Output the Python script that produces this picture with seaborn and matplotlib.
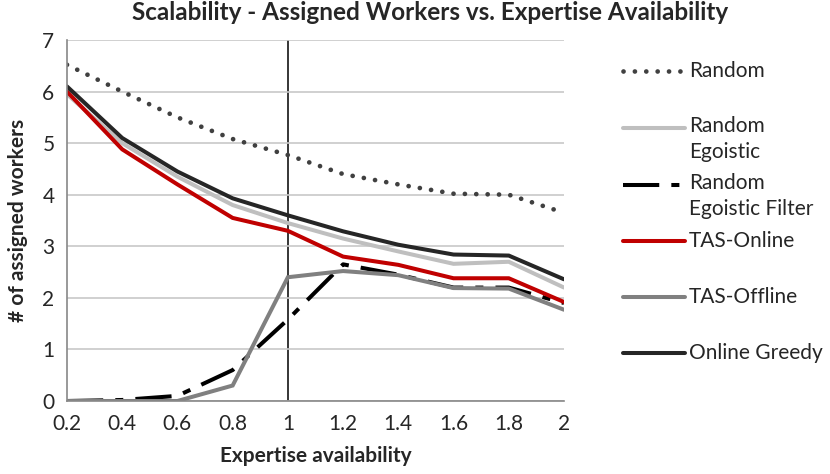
import matplotlib
matplotlib.use("Agg")
import matplotlib.pyplot as plt
from matplotlib.lines import Line2D
import seaborn as sns
import pandas as pd

# expertise availability levels
expertise = [0.2, 0.4, 0.6, 0.8, 1.0, 1.2, 1.4, 1.6, 1.8, 2.0]

# assigned workers per algorithm
random_ = [6.52, 6.0, 5.5, 5.08, 4.77, 4.4, 4.2, 4.02, 4.0, 3.65]
random_egoistic = [5.95, 5.0, 4.35, 3.8, 3.45, 3.15, 2.9, 2.66, 2.7, 2.2]
random_egoistic_filter = [0.0, 0.02, 0.1, 0.6, 1.58, 2.65, 2.45, 2.2, 2.2, 1.9]
tas_online = [6.0, 4.88, 4.2, 3.55, 3.3, 2.8, 2.64, 2.38, 2.38, 1.92]
tas_offline = [0.0, 0.0, 0.0, 0.3, 2.4, 2.52, 2.44, 2.19, 2.18, 1.77]
online_greedy = [6.1, 5.1, 4.45, 3.93, 3.6, 3.29, 3.03, 2.84, 2.82, 2.36]

series_names = ["Random", "Random\nEgoistic", "Random\nEgoistic Filter",
                "TAS-Online", "TAS-Offline", "Online Greedy"]
series_values = [random_, random_egoistic, random_egoistic_filter,
                 tas_online, tas_offline, online_greedy]

styles = {
    "Random": dict(color="#404040", ls=(0, (0.01, 2.4)), cap="round", lw=3.4),
    "Random\nEgoistic": dict(color="#BFBFBF", ls="-", cap="butt", lw=2.9),
    "Random\nEgoistic Filter": dict(color="#000000", ls=(0, (9, 3, 2, 3)), cap="butt", lw=2.9),
    "TAS-Online": dict(color="#C00000", ls="-", cap="butt", lw=2.9),
    "TAS-Offline": dict(color="#808080", ls="-", cap="butt", lw=2.9),
    "Online Greedy": dict(color="#262626", ls="-", cap="butt", lw=2.9),
}

sns.set_style("white")
plt.rcParams["font.family"] = ["Lato", "DejaVu Sans"]

fig = plt.figure(figsize=(8.3, 4.74), dpi=100)
ax = fig.add_axes([0.0807, 0.154, 0.5988, 0.7616])

for name, vals in zip(series_names, series_values):
    df = pd.DataFrame({"x": expertise, "y": vals})
    st = styles[name]
    line = sns.lineplot(data=df, x="x", y="y", ax=ax, color=st["color"],
                        linewidth=st["lw"], legend=False).lines[-1]
    line.set_linestyle(st["ls"])
    line.set_dash_capstyle(st["cap"])
    line.set_solid_joinstyle("miter")

ax.axvline(1.0, color="black", linewidth=1.1, zorder=0.5)

ax.set_xlim(0.2, 2.0)
ax.set_ylim(0, 7)
ax.set_xticks(expertise)
ax.set_xticklabels(["0.2", "0.4", "0.6", "0.8", "1", "1.2", "1.4", "1.6", "1.8", "2"])
ax.set_yticks(range(0, 8))
ax.yaxis.grid(True, color="#C8C8C8", linewidth=1.2)
ax.set_axisbelow(True)
for s in ["top", "right"]:
    ax.spines[s].set_visible(False)
for s in ["left", "bottom"]:
    ax.spines[s].set_color("#888888")
    ax.spines[s].set_linewidth(1.2)
ax.tick_params(axis="both", which="both", direction="out", length=5,
               color="#888888", width=1.2, labelsize=15, pad=4)

ax.set_xlabel("Expertise availability", fontsize=15, fontweight="bold", labelpad=9)
ax.set_ylabel("# of assigned workers", fontsize=15, fontweight="bold", labelpad=10)
fig.suptitle("Scalability - Assigned Workers vs. Expertise Availability",
             fontsize=17.5, fontweight="bold", x=0.518, y=0.998)

# legend drawn by hand to mimic spreadsheet layout
leg_y = [71, 128, 185, 241, 297, 353]
W, H = 830, 474
for name, py in zip(series_names, leg_y):
    st = styles[name]
    yf = 1 - py / H
    fig.add_artist(Line2D([623 / W, 685 / W], [yf, yf], color=st["color"],
                          linewidth=st["lw"], linestyle=st["ls"],
                          dash_capstyle=st["cap"], transform=fig.transFigure))
    multi = "\n" in name
    fig.text(689 / W, yf + (12 / H if multi else 0), name, fontsize=15,
             va="top" if multi else "center", ha="left", linespacing=1.35)

fig.savefig("out.png", dpi=100)
